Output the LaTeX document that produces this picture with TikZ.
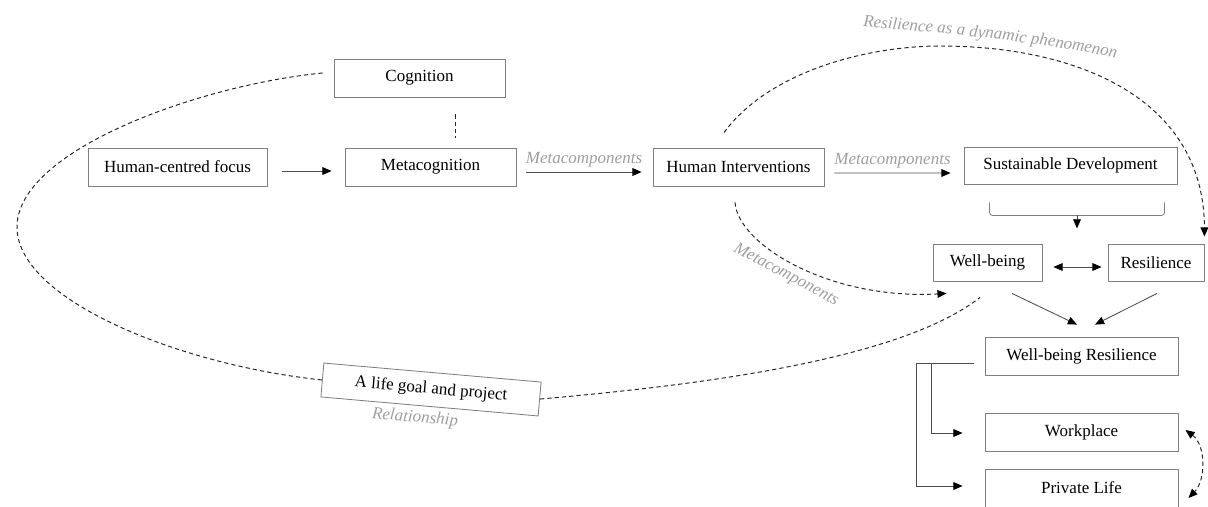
\documentclass[tikz,border=0pt]{standalone}
\usepackage{fontspec}
\setmainfont{Liberation Serif}
\usetikzlibrary{arrows.meta, calc, decorations.text}
\definecolor{boxgray}{gray}{0.5}
\definecolor{lblgray}{gray}{0.62}
\tikzset{tri/.tip={Triangle[length=6.5pt,width=5.5pt,color=black]},
         box/.style={draw=boxgray,line width=0.6pt,inner sep=0pt,minimum height=0.95cm,font=\fontsize{12.1}{14}\selectfont},
         lbl/.style={text=lblgray,font=\fontsize{12.1}{14}\selectfont\itshape},
         arr/.style={draw=black!70,line width=0.6pt,-{tri}},
         dashline/.style={black!85,line width=0.7pt,dash pattern=on 3pt off 2.2pt}}

\begin{document}
\begin{tikzpicture}[x=0.025cm,y=-0.025cm]
        \useasboundingbox (0,0) rectangle (1208,506);
        \node[box,minimum width=4.475cm](hcf)at(177.5,167){Human-centred focus};
        \node[box,minimum width=4.275cm](cog)at(419.5,78){Cognition};
        \node[box,minimum width=4.275cm](meta)at(430.5,167){Metacognition};
        \node[box,minimum width=4.275cm](hi)at(738.5,167){Human Interventions};
        \node[box,minimum width=5.325cm,minimum height=0.925cm](sd)at(1070.5,165.5){Sustainable Development};
        \node[box,minimum width=2.725cm,minimum height=0.925cm](wb)at(987.5,262.5){Well-being};
        \node[box,minimum width=2.4cm,minimum height=0.925cm](res)at(1156,262.5){Resilience};
        \node[box,minimum width=4.825cm](wbr)at(1081.5,356){Well-being Resilience};
        \node[box,minimum width=4.825cm](work)at(1081.5,432){Workplace};
        \node[box,minimum width=4.825cm](priv)at(1081.5,488){Private Life};
        \node[box,minimum width=5.45cm,minimum height=0.85cm,rotate=-5](life)at(431,389.5){A life goal and project};
        \node[lbl,rotate=-5](rel)at(415,418){Relationship};
        \node[lbl,rotate=-28](mc)at(786,275){Metacomponents};
        % main chain
        \draw[arr]($(hcf.east)+(15,4)$)--($(meta.west)+(-13,4)$);
        \draw[arr]($(meta.east)+(10,5)$)--($(hi.west)+(-11,5)$)node[midway,above,lbl]{Metacomponents};
        \draw[arr]($(hi.east)+(10,6)$)--($(sd.west)+(-13,7.5)$)node[midway,above,lbl]{Metacomponents};
        \draw[dashline,line width=0.5pt]($(cog.south)+(35.5,17)$)--($(meta.north)+(24.5,-10)$);
        % bracket under sustainable development
        \draw[draw=boxgray,line width=0.6pt,rounded corners=2pt]($(sd.south west)+(26,18)$)--++(0,13)-|($(sd.south east)+(-13,18)$);
        \coordinate(sdmid)at($(sd.south)+(6.5,31)$);
        \coordinate(sdtip)at($(sdmid)+(0,13)$);
        \draw[arr](sdmid)--(sdtip);
        % well-being and resilience
        \draw[arr,{tri}-{tri}]($(wb.east)+(11,4.5)$)--($(res.west)+(-6,4.5)$);
        \draw[arr]($(wb.south)+(24.5,12)$)--($(wbr.north)+(-4.5,-12)$);
        \draw[arr]($(res.south)+(1,12)$)--($(wbr.north)+(13.5,-12)$);
        \draw[arr]($(wbr.west)+(-11,7)$)--++(-57,0)|-($(priv.west)+(-22,-2)$);
        \draw[arr]($(wbr.west)+(-53,7)$)|-($(work.west)+(-22,1)$);
        \draw[dashline,{tri}-{tri}]($(work.east)+(7,-2)$)..controls(1206,445)and(1206,480)..($(priv.east)+(10,10)$);
        % dashed loops
        \draw[dashline,-{tri}]($(hi.north)+(-14.5,-15)$)..controls(770,70)and(870,46)..(940,46)..controls(1080,46)and(1204,100)..($(res.north east)+(0,-7)$);
        \path[decorate,decoration={text along path,text={|\fontsize{12.1}{14}\selectfont\itshape\color{lblgray}|Resilience as a dynamic phenomenon}}](863,27)..controls(940,32)and(1040,42)..(1128,60);
        \draw[dashline,-{tri}]($(hi.south)+(-3.5,16)$)..controls(738,245)and(830,300)..($(wb.south west)+(14,12)$);
        \draw[dashline]($(cog.west)+(-11,-5)$)..controls(200,85)and(17,150)..(17,227)..controls(17,300)and(180,365)..(life.west);
        \draw[dashline](life.east)..controls(700,385)and(900,360)..($(wb.south)+(-7.5,16)$);
    \end{tikzpicture}
\end{document}
